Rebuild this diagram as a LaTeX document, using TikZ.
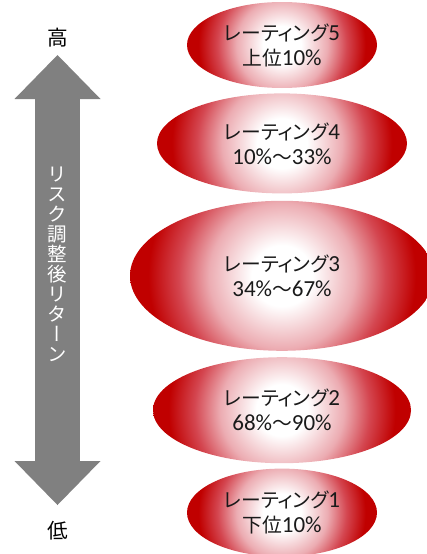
\documentclass[tikz,border=0pt]{standalone}
\usepackage{fontspec}
\usepackage{xcolor}
\usepackage{tikz}
\usetikzlibrary{shapes.geometric,arrows.meta,positioning}
\setmainfont{Carlito}
\newfontfamily\jpfont[Scale=0.86,RawFeature=+palt]{Noto Sans CJK JP}
\newfontfamily\jpvfont[RawFeature=+vert]{Noto Sans CJK JP}
\newcommand{\jp}[1]{{\jpfont #1}}
\definecolor{ratered}{RGB}{192,0,0}
\definecolor{ratedark}{RGB}{212,70,80}
\definecolor{ratepink}{RGB}{236,172,178}
\definecolor{axisgray}{RGB}{128,128,128}
\definecolor{labelblack}{RGB}{26,26,26}
\pgfdeclareradialshading{ratingglow}{\pgfpoint{0bp}{0bp}}{color(0bp)=(white); color(5bp)=(white); color(12bp)=(ratepink); color(17bp)=(ratedark); color(22bp)=(ratered); color(50bp)=(ratered)}
\tikzset{
    rating/.style 2 args = {ellipse, minimum width=#1pt, minimum height=#2pt, inner sep=0pt, align=center, text=labelblack, font=\fontsize{23}{25}\selectfont, path picture={\shade[shading=ratingglow] (path picture bounding box.center) circle [radius=#1pt/2];}},
    returnarrow/.style = {draw=axisgray, line width=45pt, {Triangle[length=44pt,width=86pt,line width=0pt]}-{Triangle[length=44pt,width=86pt,line width=0pt]}},
    ends/.style = {font=\jpfont\fontsize{24}{24}\selectfont, inner sep=0pt},
    axislabel/.style = {text=white, align=center, font=\jpvfont\fontsize{19.5}{20}\selectfont}
}

\begin{document}
\begin{tikzpicture}[x=1pt,y=-1pt]
\useasboundingbox (0,0) rectangle (426,554);
% rating ellipses, top to bottom
\node (r5) [rating={190}{86}] at (282,45) {\jp{レーティング}5\\\jp{上位}10\%};
\node (r4) [rating={250}{100}, below=5pt of r5] {\jp{レーティング}4\\10\%\jp{〜}33\%};
\node (r3) [rating={304}{150}, below=7pt of r4] {\jp{レーティング}3\\34\%\jp{〜}67\%};
\node (r2) [rating={258}{106}, below=6pt of r3] {\jp{レーティング}2\\68\%\jp{〜}90\%};
\node (r1) [rating={190}{88}, below=5pt of r2] {\jp{レーティング}1\\\jp{下位}10\%};

% risk-adjusted return axis
\coordinate (hitip) at (57.5,55);
\coordinate (lotip) at (57.5,505);
\draw [returnarrow] (lotip) -- (hitip);
\node (high) [ends, above=8pt of hitip] {高};
\node (low) [ends, below=16pt of lotip] {低};
\node (axislbl) [axislabel] at (57.5,264) {リ\\ス\\ク\\調\\整\\後\\リ\\タ\\ー\\ン};
\end{tikzpicture}
\end{document}
